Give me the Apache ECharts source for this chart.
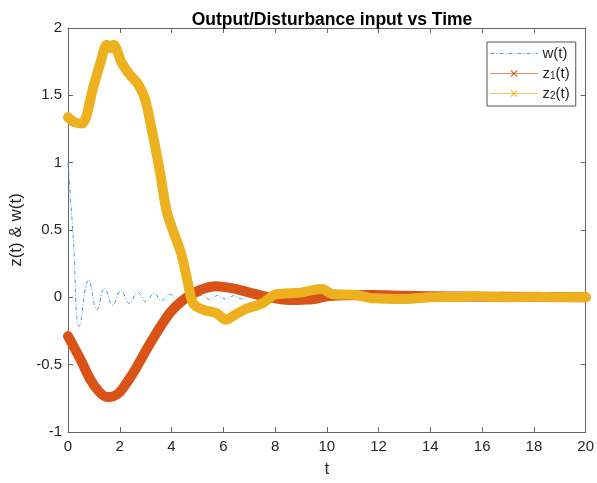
<!DOCTYPE html>
<html>
<head>
<meta charset="utf-8">
<script src="https://cdn.jsdelivr.net/npm/echarts@6/dist/echarts.min.js"></script>
<style>
html,body{margin:0;padding:0;background:#fff;}
#chart{width:597px;height:483px;}
</style>
</head>
<body>
<div id="chart"></div>
<script>
// ---- data ----
var xTicks = [0, 2, 4, 6, 8, 10, 12, 14, 16, 18, 20];
var yTicks = [-1, -0.5, 0, 0.5, 1, 1.5, 2];

var tW = [0, 0.2, 0.44, 0.8, 1.12, 1.41, 1.73, 2.05, 2.37, 2.69, 3.01, 3.33, 3.61, 3.93, 4.24, 4.55, 4.86, 5.17, 5.48, 5.79, 6.1, 6.41, 6.72, 7.03, 8, 10, 14, 20];
var wVals = [1.0, 0.45, -0.215, 0.128, -0.092, 0.066, -0.056, 0.049, -0.044, 0.037, -0.032, 0.03, -0.024, 0.022, -0.02, 0.018, -0.017, 0.016, -0.015, 0.014, -0.013, 0.012, -0.011, 0.01, 0.004, 0.001, 0, 0];

var tZ1 = [0, 0.48, 0.86, 1.2, 1.5, 1.75, 2.02, 2.53, 3.04, 3.42, 3.93, 4.45, 5.09, 5.73, 6.37, 6.88, 7.65, 8.54, 9.44, 10.08, 11.7, 13, 14, 16, 18, 20];
var z1Vals = [-0.288, -0.46, -0.61, -0.70, -0.74, -0.735, -0.70, -0.557, -0.386, -0.264, -0.117, -0.02, 0.054, 0.083, 0.066, 0.042, 0.005, -0.02, -0.015, 0.01, 0.018, 0.012, 0.008, 0.005, 0.003, 0];

var tZ2 = [0, 0.25, 0.54, 0.99, 1.25, 1.5, 1.63, 1.76, 2.08, 2.4, 2.72, 2.98, 3.23, 3.55, 3.81, 4.06, 4.38, 4.64, 4.83, 5.21, 5.73, 6.1, 6.45, 6.88, 7.52, 7.97, 8.54, 9.0, 9.44, 9.82, 10.2, 11.1, 11.8, 13.0, 14.0, 15.0, 15.8, 17.0, 18.0, 19.0, 20];
var z2Vals = [1.337, 1.30, 1.29, 1.57, 1.74, 1.875, 1.85, 1.875, 1.74, 1.65, 1.58, 1.47, 1.25, 0.934, 0.64, 0.494, 0.32, 0.10, -0.044, -0.092, -0.117, -0.166, -0.13, -0.085, -0.044, 0.018, 0.03, 0.035, 0.054, 0.062, 0.025, 0.018, -0.007, -0.012, 0, 0.003, 0.008, 0.0, 0.005, 0.0, 0.0];

var seriesNames = ['w(t)', 'z1(t)', 'z2(t)'];
var titleText = 'Output/Disturbance input vs Time';
var xName = 't';
var yName = 'z(t) & w(t)';

function pairs(t, v) { return t.map(function (x, i) { return [x, v[i]]; }); }

var FONT = 'Liberation Sans, Arial, Helvetica, sans-serif';
var AXC = '#666666';
var TXT = '#262626';
// thin "x" marker, padded with an empty sub-path so it stays small in the legend
var xPath = 'path://M-0.3,-0.3 L-0.3,-0.3 M1.3,1.3 L1.3,1.3 ' +
  'M0,0.1 L0.1,0 L0.5,0.4 L0.9,0 L1,0.1 L0.6,0.5 L1,0.9 L0.9,1 L0.5,0.6 L0.1,1 L0,0.9 L0.4,0.5 Z';

var chart = echarts.init(document.getElementById('chart'), null, {renderer: 'canvas'});

function axisBase() {
  return {
    type: 'value',
    axisLine: {show: true, onZero: false, lineStyle: {color: AXC, width: 1}},
    axisTick: {show: true, inside: true, length: 5, lineStyle: {color: AXC}},
    splitLine: {show: false}
  };
}

chart.setOption({
  backgroundColor: '#ffffff',
  animation: false,
  title: {
    text: titleText,
    left: 327, top: 6, textAlign: 'center',
    textStyle: {fontFamily: FONT, fontSize: 17.5, fontWeight: 'bold', color: '#000'}
  },
  grid: {left: 68, top: 28, right: 9, bottom: 46, containLabel: false},
  legend: {
    orient: 'vertical',
    left: 487, top: 42,
    padding: [4, 6, 5, 3],
    itemWidth: 47, itemHeight: 14, itemGap: 5,
    backgroundColor: '#fff',
    borderColor: '#555', borderWidth: 1,
    data: [
      {name: 'w(t)', itemStyle: {opacity: 0}, lineStyle: {color: '#4f9ad0', width: 1}},
      {name: 'z1(t)', lineStyle: {color: '#e58a62', width: 1}},
      {name: 'z2(t)', lineStyle: {color: '#f0c550', width: 1}}
    ],
    lineStyle: {width: 1},
    formatter: function (n) {
      if (n === 'z1(t)') return 'z{sub|1}(t)';
      if (n === 'z2(t)') return 'z{sub|2}(t)';
      return n;
    },
    textStyle: {
      fontFamily: FONT, fontSize: 15, color: TXT,
      rich: {sub: {fontFamily: FONT, fontSize: 10, color: TXT, verticalAlign: 'bottom', lineHeight: 10, padding: [4, 0, 0, 0]}}
    }
  },
  xAxis: [
    Object.assign(axisBase(), {
      position: 'bottom', min: xTicks[0], max: xTicks[xTicks.length - 1], interval: 2,
      name: xName, nameLocation: 'middle', nameGap: 29,
      nameTextStyle: {fontFamily: FONT, fontSize: 17, color: TXT},
      axisLabel: {fontFamily: FONT, fontSize: 15, color: TXT, margin: 7}
    }),
    Object.assign(axisBase(), {
      position: 'top', min: xTicks[0], max: xTicks[xTicks.length - 1], interval: 2,
      axisLabel: {show: false}
    })
  ],
  yAxis: [
    Object.assign(axisBase(), {
      position: 'left', min: yTicks[0], max: yTicks[yTicks.length - 1], interval: 0.5,
      name: yName, nameLocation: 'middle', nameGap: 43, nameRotate: 90,
      nameTextStyle: {fontFamily: FONT, fontSize: 17, color: TXT},
      axisLabel: {fontFamily: FONT, fontSize: 15, color: TXT, margin: 6}
    }),
    Object.assign(axisBase(), {
      position: 'right', min: yTicks[0], max: yTicks[yTicks.length - 1], interval: 0.5,
      axisLabel: {show: false}
    })
  ],
  series: [
    {
      name: seriesNames[0], type: 'line', xAxisIndex: 0, yAxisIndex: 0,
      data: pairs(tW, wVals), smooth: 0.45, showSymbol: false,
      symbol: 'none',
      color: '#3b8fc9',
      lineStyle: {color: '#3b8fc9', width: 0.9, type: [4, 2, 1, 2]},
      z: 2
    },
    {
      name: seriesNames[1], type: 'line', xAxisIndex: 0, yAxisIndex: 0,
      data: pairs(tZ1, z1Vals), smooth: 0.3, showSymbol: false,
      symbol: xPath, symbolSize: 7,
      color: '#D95319',
      itemStyle: {borderWidth: 0},
      lineStyle: {color: '#D95319', width: 10, cap: 'round', join: 'round'},
      z: 3
    },
    {
      name: seriesNames[2], type: 'line', xAxisIndex: 0, yAxisIndex: 0,
      data: pairs(tZ2, z2Vals), smooth: 0.3, showSymbol: false,
      symbol: xPath, symbolSize: 7,
      color: '#EDB120',
      itemStyle: {borderWidth: 0},
      lineStyle: {color: '#EDB120', width: 10, cap: 'round', join: 'round'},
      z: 4
    }
  ]
});
</script>
</body>
</html>
